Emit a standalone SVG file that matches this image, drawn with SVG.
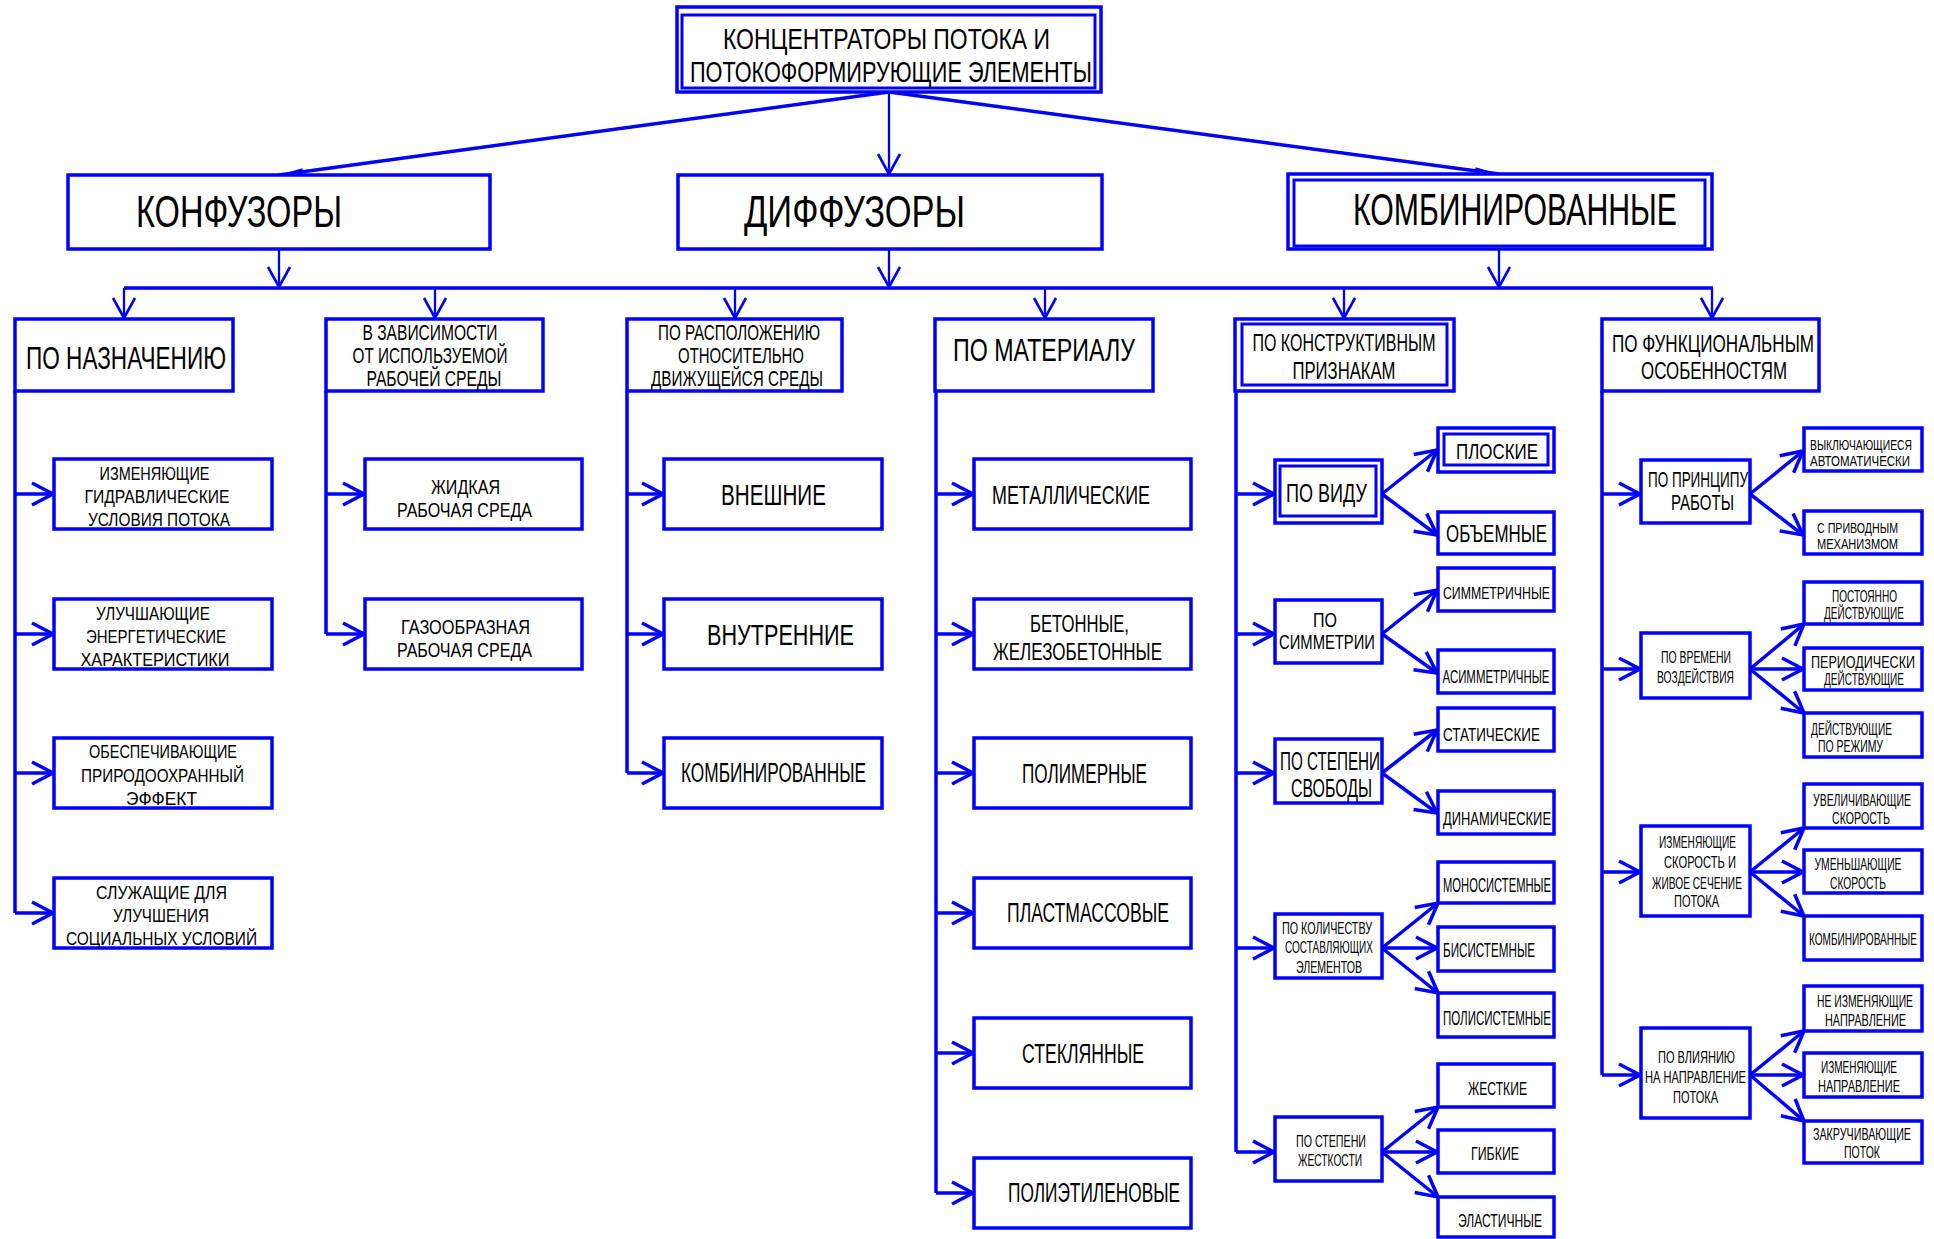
<svg xmlns="http://www.w3.org/2000/svg" width="1934" height="1239" viewBox="0 0 1934 1239">
<defs>
<style>
.bx{fill:#fff;stroke:#0000ff;stroke-width:3.5}
.in{fill:none;stroke:#0000ff;stroke-width:3}
.ln{stroke:#0000ff;stroke-width:3.5;fill:none}
.lt{stroke:#0000ff;stroke-width:2.3;fill:none}
text{font-family:"Liberation Sans",Arial,sans-serif;fill:#000;text-anchor:middle}
</style>
<marker id="ar" viewBox="-26 -15 30 30" markerWidth="30" markerHeight="30" refX="0" refY="0" orient="auto" markerUnits="userSpaceOnUse"><path d="M-21,-11 L0,0 L-21,11" fill="none" stroke="#0000ff" stroke-width="3.5"/></marker>
<marker id="as" viewBox="-26 -15 30 30" markerWidth="30" markerHeight="30" refX="0" refY="0" orient="auto" markerUnits="userSpaceOnUse"><path d="M-20,-11 L0,0 L-20,11" fill="none" stroke="#0000ff" stroke-width="2.6"/></marker>
<marker id="af" viewBox="-28 -6 30 12" markerWidth="30" markerHeight="12" refX="0" refY="0" orient="auto" markerUnits="userSpaceOnUse"><path d="M-24,-3.5 L0,0 L-24,3.5 z" fill="#0000ff"/></marker>
</defs>
<rect width="1934" height="1239" fill="#fff"/>

<g id="connectors">
<line class="ln" x1="889" y1="92" x2="279" y2="175" marker-end="url(#af)"/>
<line class="lt" x1="889" y1="92" x2="889" y2="174" marker-end="url(#as)"/>
<line class="ln" x1="889" y1="92" x2="1499" y2="174" marker-end="url(#af)"/>
<line class="lt" x1="279" y1="249" x2="279" y2="287" marker-end="url(#as)"/>
<line class="lt" x1="889" y1="249" x2="889" y2="287" marker-end="url(#as)"/>
<line class="lt" x1="1499" y1="249" x2="1499" y2="287" marker-end="url(#as)"/>
<line class="ln" x1="124" y1="288" x2="1713" y2="288"/>
<line class="lt" x1="124" y1="288" x2="124" y2="318" marker-end="url(#as)"/>
<line class="lt" x1="435" y1="288" x2="435" y2="318" marker-end="url(#as)"/>
<line class="lt" x1="735" y1="288" x2="735" y2="318" marker-end="url(#as)"/>
<line class="lt" x1="1045" y1="288" x2="1045" y2="318" marker-end="url(#as)"/>
<line class="lt" x1="1344" y1="288" x2="1344" y2="318" marker-end="url(#as)"/>
<line class="lt" x1="1712" y1="288" x2="1712" y2="318" marker-end="url(#as)"/>
<path class="ln" d="M15,391V913M326,391V634M627,391V773M936,391V1193M1236,391V1152M1602,391V1075"/>
<g marker-end="url(#ar)">
<line class="ln" x1="15" y1="494" x2="53" y2="494"/>
<line class="ln" x1="15" y1="634" x2="53" y2="634"/>
<line class="ln" x1="15" y1="773" x2="53" y2="773"/>
<line class="ln" x1="15" y1="913" x2="53" y2="913"/>
<line class="ln" x1="326" y1="494" x2="364" y2="494"/>
<line class="ln" x1="326" y1="634" x2="364" y2="634"/>
<line class="ln" x1="627" y1="494" x2="663" y2="494"/>
<line class="ln" x1="627" y1="634" x2="663" y2="634"/>
<line class="ln" x1="627" y1="773" x2="663" y2="773"/>
<line class="ln" x1="936" y1="494" x2="973" y2="494"/>
<line class="ln" x1="936" y1="634" x2="973" y2="634"/>
<line class="ln" x1="936" y1="773" x2="973" y2="773"/>
<line class="ln" x1="936" y1="913" x2="973" y2="913"/>
<line class="ln" x1="936" y1="1053" x2="973" y2="1053"/>
<line class="ln" x1="936" y1="1193" x2="973" y2="1193"/>
<line class="ln" x1="1236" y1="494" x2="1274" y2="494"/>
<line class="ln" x1="1236" y1="634" x2="1274" y2="634"/>
<line class="ln" x1="1236" y1="773" x2="1274" y2="773"/>
<line class="ln" x1="1236" y1="948" x2="1274" y2="948"/>
<line class="ln" x1="1236" y1="1152" x2="1274" y2="1152"/>
<line class="ln" x1="1602" y1="494" x2="1640" y2="494"/>
<line class="ln" x1="1602" y1="669" x2="1640" y2="669"/>
<line class="ln" x1="1602" y1="872" x2="1640" y2="872"/>
<line class="ln" x1="1602" y1="1075" x2="1640" y2="1075"/>
<line class="ln" x1="1382" y1="494" x2="1437" y2="450"/>
<line class="ln" x1="1382" y1="494" x2="1437" y2="535"/>
<line class="ln" x1="1382" y1="634" x2="1437" y2="590"/>
<line class="ln" x1="1382" y1="634" x2="1437" y2="673"/>
<line class="ln" x1="1382" y1="773" x2="1437" y2="730"/>
<line class="ln" x1="1382" y1="773" x2="1437" y2="813"/>
<line class="ln" x1="1382" y1="948" x2="1438" y2="903"/>
<line class="ln" x1="1382" y1="948" x2="1437" y2="948"/>
<line class="ln" x1="1382" y1="948" x2="1438" y2="993"/>
<line class="ln" x1="1382" y1="1152" x2="1438" y2="1107"/>
<line class="ln" x1="1382" y1="1152" x2="1437" y2="1152"/>
<line class="ln" x1="1382" y1="1152" x2="1438" y2="1197"/>
<line class="ln" x1="1750" y1="494" x2="1803" y2="451"/>
<line class="ln" x1="1750" y1="494" x2="1803" y2="535"/>
<line class="ln" x1="1750" y1="669" x2="1804" y2="624"/>
<line class="ln" x1="1750" y1="669" x2="1803" y2="669"/>
<line class="ln" x1="1750" y1="669" x2="1804" y2="713"/>
<line class="ln" x1="1750" y1="872" x2="1804" y2="828"/>
<line class="ln" x1="1750" y1="872" x2="1803" y2="872"/>
<line class="ln" x1="1750" y1="872" x2="1804" y2="916"/>
<line class="ln" x1="1750" y1="1075" x2="1804" y2="1031"/>
<line class="ln" x1="1750" y1="1075" x2="1803" y2="1075"/>
<line class="ln" x1="1750" y1="1075" x2="1804" y2="1121"/>
</g>
</g>

<g id="root"><rect class="bx" x="677" y="7" width="424" height="85"/><rect class="in" x="682" y="15" width="413" height="73"/>
<text x="886.5" y="49" font-size="29" textLength="327" lengthAdjust="spacingAndGlyphs">КОНЦЕНТРАТОРЫ ПОТОКА И</text>
<text x="891" y="82" font-size="30" textLength="402" lengthAdjust="spacingAndGlyphs">ПОТОКОФОРМИРУЮЩИЕ ЭЛЕМЕНТЫ</text></g>

<g id="konfuzory"><rect class="bx" x="68" y="175" width="422" height="74"/><text x="239" y="227" font-size="45" textLength="206" lengthAdjust="spacingAndGlyphs">КОНФУЗОРЫ</text></g>
<g id="diffuzory"><rect class="bx" x="678" y="175" width="424" height="74"/><text x="854.5" y="227" font-size="45" textLength="221" lengthAdjust="spacingAndGlyphs">ДИФФУЗОРЫ</text></g>
<g id="kombinirovannye"><rect class="bx" x="1288" y="174" width="424" height="75"/><rect class="in" x="1294" y="180" width="411" height="66"/><text x="1515" y="225" font-size="45" textLength="324" lengthAdjust="spacingAndGlyphs">КОМБИНИРОВАННЫЕ</text></g>

<g id="po-naznacheniyu"><rect class="bx" x="15" y="319" width="218" height="72"/><text x="126" y="369" font-size="31" textLength="200" lengthAdjust="spacingAndGlyphs">ПО НАЗНАЧЕНИЮ</text></g>
<g id="v-zavisimosti"><rect class="bx" x="326" y="319" width="217" height="72"/>
<text x="430" y="340" font-size="22" textLength="135" lengthAdjust="spacingAndGlyphs">В ЗАВИСИМОСТИ</text>
<text x="430" y="363" font-size="22" textLength="155" lengthAdjust="spacingAndGlyphs">ОТ ИСПОЛЬЗУЕМОЙ</text>
<text x="434" y="386" font-size="22" textLength="135" lengthAdjust="spacingAndGlyphs">РАБОЧЕЙ СРЕДЫ</text></g>
<g id="po-raspolozheniyu"><rect class="bx" x="627" y="319" width="215" height="72"/>
<text x="739" y="340" font-size="22" textLength="162" lengthAdjust="spacingAndGlyphs">ПО РАСПОЛОЖЕНИЮ</text>
<text x="741" y="363" font-size="22" textLength="126" lengthAdjust="spacingAndGlyphs">ОТНОСИТЕЛЬНО</text>
<text x="737" y="386" font-size="22" textLength="172" lengthAdjust="spacingAndGlyphs">ДВИЖУЩЕЙСЯ СРЕДЫ</text></g>
<g id="po-materialu"><rect class="bx" x="935" y="319" width="218" height="72"/><text x="1044" y="361" font-size="31" textLength="182" lengthAdjust="spacingAndGlyphs">ПО МАТЕРИАЛУ</text></g>
<g id="po-konstruktivnym"><rect class="bx" x="1235" y="319" width="219" height="72"/><rect class="in" x="1242" y="324" width="205" height="61"/>
<text x="1344" y="351" font-size="24" textLength="183" lengthAdjust="spacingAndGlyphs">ПО КОНСТРУКТИВНЫМ</text>
<text x="1344" y="379" font-size="24" textLength="103" lengthAdjust="spacingAndGlyphs">ПРИЗНАКАМ</text></g>
<g id="po-funkcionalnym"><rect class="bx" x="1602" y="319" width="217" height="72"/>
<text x="1713" y="352" font-size="24" textLength="202" lengthAdjust="spacingAndGlyphs">ПО ФУНКЦИОНАЛЬНЫМ</text>
<text x="1714" y="379" font-size="24" textLength="146" lengthAdjust="spacingAndGlyphs">ОСОБЕННОСТЯМ</text></g>

<g id="n-izmenyayushchie-gidr"><rect class="bx" x="54" y="459" width="218" height="70"/>
<text x="154.5" y="480" font-size="19" textLength="110" lengthAdjust="spacingAndGlyphs">ИЗМЕНЯЮЩИЕ</text>
<text x="157" y="503" font-size="19" textLength="145" lengthAdjust="spacingAndGlyphs">ГИДРАВЛИЧЕСКИЕ</text>
<text x="159" y="526" font-size="19" textLength="142" lengthAdjust="spacingAndGlyphs">УСЛОВИЯ ПОТОКА</text></g>
<g id="n-uluchshayushchie"><rect class="bx" x="54" y="599" width="218" height="70"/>
<text x="153" y="620" font-size="19" textLength="114" lengthAdjust="spacingAndGlyphs">УЛУЧШАЮЩИЕ</text>
<text x="156" y="643" font-size="19" textLength="140" lengthAdjust="spacingAndGlyphs">ЭНЕРГЕТИЧЕСКИЕ</text>
<text x="155" y="666" font-size="19" textLength="149" lengthAdjust="spacingAndGlyphs">ХАРАКТЕРИСТИКИ</text></g>
<g id="n-obespechivayushchie"><rect class="bx" x="54" y="738" width="218" height="70"/>
<text x="163" y="758" font-size="19" textLength="148" lengthAdjust="spacingAndGlyphs">ОБЕСПЕЧИВАЮЩИЕ</text>
<text x="162.5" y="782" font-size="19" textLength="163" lengthAdjust="spacingAndGlyphs">ПРИРОДООХРАННЫЙ</text>
<text x="161.5" y="805" font-size="19" textLength="71" lengthAdjust="spacingAndGlyphs">ЭФФЕКТ</text></g>
<g id="n-sluzhashchie"><rect class="bx" x="54" y="878" width="218" height="70"/>
<text x="161.5" y="899" font-size="19" textLength="131" lengthAdjust="spacingAndGlyphs">СЛУЖАЩИЕ ДЛЯ</text>
<text x="161" y="922" font-size="19" textLength="96" lengthAdjust="spacingAndGlyphs">УЛУЧШЕНИЯ</text>
<text x="161.5" y="945" font-size="19" textLength="191" lengthAdjust="spacingAndGlyphs">СОЦИАЛЬНЫХ УСЛОВИЙ</text></g>

<g id="n-zhidkaya"><rect class="bx" x="365" y="459" width="217" height="70"/>
<text x="465.5" y="494" font-size="21" textLength="69" lengthAdjust="spacingAndGlyphs">ЖИДКАЯ</text>
<text x="464.5" y="517" font-size="21" textLength="135" lengthAdjust="spacingAndGlyphs">РАБОЧАЯ СРЕДА</text></g>
<g id="n-gazoobraznaya"><rect class="bx" x="365" y="599" width="217" height="70"/>
<text x="465.5" y="634" font-size="21" textLength="129" lengthAdjust="spacingAndGlyphs">ГАЗООБРАЗНАЯ</text>
<text x="464.5" y="657" font-size="21" textLength="135" lengthAdjust="spacingAndGlyphs">РАБОЧАЯ СРЕДА</text></g>

<g id="n-vneshnie"><rect class="bx" x="664" y="459" width="218" height="70"/><text x="773.5" y="505" font-size="30" textLength="105" lengthAdjust="spacingAndGlyphs">ВНЕШНИЕ</text></g>
<g id="n-vnutrennie"><rect class="bx" x="664" y="599" width="218" height="70"/><text x="780.5" y="645" font-size="30" textLength="147" lengthAdjust="spacingAndGlyphs">ВНУТРЕННИЕ</text></g>
<g id="n-kombinirovannye-2"><rect class="bx" x="664" y="738" width="218" height="70"/><text x="773.5" y="782" font-size="27" textLength="185" lengthAdjust="spacingAndGlyphs">КОМБИНИРОВАННЫЕ</text></g>

<g id="n-metallicheskie"><rect class="bx" x="974" y="459" width="217" height="70"/><text x="1071" y="504" font-size="26" textLength="158" lengthAdjust="spacingAndGlyphs">МЕТАЛЛИЧЕСКИЕ</text></g>
<g id="n-betonnye"><rect class="bx" x="974" y="599" width="217" height="70"/>
<text x="1079.5" y="632" font-size="24" textLength="99" lengthAdjust="spacingAndGlyphs">БЕТОННЫЕ,</text>
<text x="1077.5" y="660" font-size="24" textLength="169" lengthAdjust="spacingAndGlyphs">ЖЕЛЕЗОБЕТОННЫЕ</text></g>
<g id="n-polimernye"><rect class="bx" x="974" y="738" width="217" height="70"/><text x="1084.5" y="783" font-size="27" textLength="125" lengthAdjust="spacingAndGlyphs">ПОЛИМЕРНЫЕ</text></g>
<g id="n-plastmassovye"><rect class="bx" x="974" y="878" width="217" height="70"/><text x="1088" y="922" font-size="27" textLength="162" lengthAdjust="spacingAndGlyphs">ПЛАСТМАССОВЫЕ</text></g>
<g id="n-steklyannye"><rect class="bx" x="974" y="1018" width="217" height="70"/><text x="1083" y="1063" font-size="27" textLength="122" lengthAdjust="spacingAndGlyphs">СТЕКЛЯННЫЕ</text></g>
<g id="n-polietilenovye"><rect class="bx" x="974" y="1158" width="217" height="70"/><text x="1094" y="1202" font-size="27" textLength="172" lengthAdjust="spacingAndGlyphs">ПОЛИЭТИЛЕНОВЫЕ</text></g>

<g id="n-po-vidu"><rect class="bx" x="1275" y="460" width="107" height="63"/><rect class="in" x="1280" y="466" width="96" height="50"/><text x="1326.5" y="502" font-size="26" textLength="81" lengthAdjust="spacingAndGlyphs">ПО ВИДУ</text></g>
<g id="n-po-simmetrii"><rect class="bx" x="1275" y="600" width="107" height="63"/>
<text x="1325" y="627" font-size="20" textLength="24" lengthAdjust="spacingAndGlyphs">ПО</text>
<text x="1327" y="649" font-size="20" textLength="96" lengthAdjust="spacingAndGlyphs">СИММЕТРИИ</text></g>
<g id="n-po-stepeni-svobody"><rect class="bx" x="1275" y="739" width="107" height="64"/>
<text x="1330" y="770" font-size="25" textLength="100" lengthAdjust="spacingAndGlyphs">ПО СТЕПЕНИ</text>
<text x="1331.5" y="797" font-size="25" textLength="81" lengthAdjust="spacingAndGlyphs">СВОБОДЫ</text></g>
<g id="n-po-kolichestvu"><rect class="bx" x="1275" y="914" width="107" height="64"/>
<text x="1327" y="934" font-size="16" textLength="90" lengthAdjust="spacingAndGlyphs">ПО КОЛИЧЕСТВУ</text>
<text x="1329" y="953" font-size="16" textLength="88" lengthAdjust="spacingAndGlyphs">СОСТАВЛЯЮЩИХ</text>
<text x="1329" y="973" font-size="16" textLength="66" lengthAdjust="spacingAndGlyphs">ЭЛЕМЕНТОВ</text></g>
<g id="n-po-stepeni-zhestkosti"><rect class="bx" x="1275" y="1117" width="107" height="64"/>
<text x="1331" y="1147" font-size="17" textLength="70" lengthAdjust="spacingAndGlyphs">ПО СТЕПЕНИ</text>
<text x="1330" y="1166" font-size="17" textLength="64" lengthAdjust="spacingAndGlyphs">ЖЕСТКОСТИ</text></g>

<g id="n-ploskie"><rect class="bx" x="1438" y="428" width="116" height="44"/><rect class="in" x="1444" y="434" width="104" height="31"/><text x="1497" y="459" font-size="22" textLength="82" lengthAdjust="spacingAndGlyphs">ПЛОСКИЕ</text></g>
<g id="n-obemnye"><rect class="bx" x="1438" y="512" width="116" height="42"/><text x="1496.5" y="542" font-size="23" textLength="101" lengthAdjust="spacingAndGlyphs">ОБЪЕМНЫЕ</text></g>
<g id="n-simmetrichnye"><rect class="bx" x="1438" y="568" width="116" height="43"/><text x="1496.5" y="599" font-size="17" textLength="107" lengthAdjust="spacingAndGlyphs">СИММЕТРИЧНЫЕ</text></g>
<g id="n-asimmetrichnye"><rect class="bx" x="1438" y="650" width="116" height="43"/><text x="1496" y="683" font-size="18" textLength="107" lengthAdjust="spacingAndGlyphs">АСИММЕТРИЧНЫЕ</text></g>
<g id="n-staticheskie"><rect class="bx" x="1438" y="708" width="116" height="43"/><text x="1491.5" y="741" font-size="18" textLength="97" lengthAdjust="spacingAndGlyphs">СТАТИЧЕСКИЕ</text></g>
<g id="n-dinamicheskie"><rect class="bx" x="1438" y="791" width="116" height="43"/><text x="1497" y="825" font-size="18" textLength="108" lengthAdjust="spacingAndGlyphs">ДИНАМИЧЕСКИЕ</text></g>
<g id="n-monosistemnye"><rect class="bx" x="1438" y="862" width="116" height="41"/><text x="1497" y="892" font-size="20" textLength="108" lengthAdjust="spacingAndGlyphs">МОНОСИСТЕМНЫЕ</text></g>
<g id="n-bisistemnye"><rect class="bx" x="1438" y="927" width="116" height="44"/><text x="1489" y="957" font-size="20" textLength="92" lengthAdjust="spacingAndGlyphs">БИСИСТЕМНЫЕ</text></g>
<g id="n-polisistemnye"><rect class="bx" x="1438" y="993" width="116" height="44"/><text x="1497" y="1025" font-size="20" textLength="108" lengthAdjust="spacingAndGlyphs">ПОЛИСИСТЕМНЫЕ</text></g>
<g id="n-zhestkie"><rect class="bx" x="1438" y="1064" width="116" height="43"/><text x="1497.5" y="1095" font-size="19" textLength="59" lengthAdjust="spacingAndGlyphs">ЖЕСТКИЕ</text></g>
<g id="n-gibkie"><rect class="bx" x="1438" y="1130" width="116" height="43"/><text x="1495" y="1160" font-size="19" textLength="48" lengthAdjust="spacingAndGlyphs">ГИБКИЕ</text></g>
<g id="n-elastichnye"><rect class="bx" x="1438" y="1197" width="116" height="40"/><text x="1500" y="1227" font-size="19" textLength="84" lengthAdjust="spacingAndGlyphs">ЭЛАСТИЧНЫЕ</text></g>

<g id="n-po-principu"><rect class="bx" x="1641" y="460" width="109" height="63"/>
<text x="1698" y="487" font-size="22" textLength="100" lengthAdjust="spacingAndGlyphs">ПО ПРИНЦИПУ</text>
<text x="1702.5" y="510" font-size="22" textLength="63" lengthAdjust="spacingAndGlyphs">РАБОТЫ</text></g>
<g id="n-po-vremeni"><rect class="bx" x="1641" y="633" width="109" height="65"/>
<text x="1696" y="663" font-size="17" textLength="70" lengthAdjust="spacingAndGlyphs">ПО ВРЕМЕНИ</text>
<text x="1695.5" y="683" font-size="17" textLength="77" lengthAdjust="spacingAndGlyphs">ВОЗДЕЙСТВИЯ</text></g>
<g id="n-izm-skorost"><rect class="bx" x="1641" y="826" width="109" height="90"/>
<text x="1697.5" y="848" font-size="17" textLength="77" lengthAdjust="spacingAndGlyphs">ИЗМЕНЯЮЩИЕ</text>
<text x="1700" y="868" font-size="17" textLength="72" lengthAdjust="spacingAndGlyphs">СКОРОСТЬ И</text>
<text x="1697" y="889" font-size="17" textLength="90" lengthAdjust="spacingAndGlyphs">ЖИВОЕ СЕЧЕНИЕ</text>
<text x="1696.5" y="907" font-size="17" textLength="45" lengthAdjust="spacingAndGlyphs">ПОТОКА</text></g>
<g id="n-po-vliyaniyu"><rect class="bx" x="1641" y="1028" width="109" height="90"/>
<text x="1696.5" y="1063" font-size="17" textLength="77" lengthAdjust="spacingAndGlyphs">ПО ВЛИЯНИЮ</text>
<text x="1695.5" y="1083" font-size="17" textLength="101" lengthAdjust="spacingAndGlyphs">НА НАПРАВЛЕНИЕ</text>
<text x="1695.5" y="1103" font-size="17" textLength="45" lengthAdjust="spacingAndGlyphs">ПОТОКА</text></g>

<g id="n-vyklyuchayushchiesya"><rect class="bx" x="1804" y="428" width="118" height="43"/>
<text x="1861" y="450" font-size="15" textLength="102" lengthAdjust="spacingAndGlyphs">ВЫКЛЮЧАЮЩИЕСЯ</text>
<text x="1860" y="466" font-size="15" textLength="100" lengthAdjust="spacingAndGlyphs">АВТОМАТИЧЕСКИ</text></g>
<g id="n-s-privodnym"><rect class="bx" x="1804" y="511" width="118" height="43"/>
<text x="1857.5" y="533" font-size="15" textLength="81" lengthAdjust="spacingAndGlyphs">С ПРИВОДНЫМ</text>
<text x="1857.5" y="549" font-size="15" textLength="81" lengthAdjust="spacingAndGlyphs">МЕХАНИЗМОМ</text></g>
<g id="n-postoyanno"><rect class="bx" x="1804" y="582" width="118" height="42"/>
<text x="1864.5" y="602" font-size="16" textLength="65" lengthAdjust="spacingAndGlyphs">ПОСТОЯННО</text>
<text x="1864" y="619" font-size="16" textLength="80" lengthAdjust="spacingAndGlyphs">ДЕЙСТВУЮЩИЕ</text></g>
<g id="n-periodicheski"><rect class="bx" x="1804" y="648" width="118" height="42"/>
<text x="1863" y="668" font-size="16" textLength="104" lengthAdjust="spacingAndGlyphs">ПЕРИОДИЧЕСКИ</text>
<text x="1864" y="685" font-size="16" textLength="80" lengthAdjust="spacingAndGlyphs">ДЕЙСТВУЮЩИЕ</text></g>
<g id="n-po-rezhimu"><rect class="bx" x="1804" y="713" width="118" height="44"/>
<text x="1851.5" y="735" font-size="16" textLength="81" lengthAdjust="spacingAndGlyphs">ДЕЙСТВУЮЩИЕ</text>
<text x="1850.5" y="752" font-size="16" textLength="65" lengthAdjust="spacingAndGlyphs">ПО РЕЖИМУ</text></g>
<g id="n-uvelichivayushchie"><rect class="bx" x="1804" y="784" width="118" height="44"/>
<text x="1862" y="806" font-size="16" textLength="98" lengthAdjust="spacingAndGlyphs">УВЕЛИЧИВАЮЩИЕ</text>
<text x="1861" y="824" font-size="16" textLength="58" lengthAdjust="spacingAndGlyphs">СКОРОСТЬ</text></g>
<g id="n-umenshayushchie"><rect class="bx" x="1804" y="850" width="118" height="43"/>
<text x="1858" y="870" font-size="16" textLength="87" lengthAdjust="spacingAndGlyphs">УМЕНЬШАЮЩИЕ</text>
<text x="1858" y="889" font-size="16" textLength="56" lengthAdjust="spacingAndGlyphs">СКОРОСТЬ</text></g>
<g id="n-kombinirovannye-3"><rect class="bx" x="1804" y="916" width="118" height="44"/>
<text x="1863" y="945" font-size="16" textLength="108" lengthAdjust="spacingAndGlyphs">КОМБИНИРОВАННЫЕ</text></g>
<g id="n-ne-izmenyayushchie"><rect class="bx" x="1804" y="986" width="118" height="45"/>
<text x="1865" y="1007" font-size="16" textLength="96" lengthAdjust="spacingAndGlyphs">НЕ ИЗМЕНЯЮЩИЕ</text>
<text x="1865.5" y="1026" font-size="16" textLength="81" lengthAdjust="spacingAndGlyphs">НАПРАВЛЕНИЕ</text></g>
<g id="n-izmenyayushchie-napr"><rect class="bx" x="1804" y="1053" width="118" height="44"/>
<text x="1859" y="1073" font-size="16" textLength="76" lengthAdjust="spacingAndGlyphs">ИЗМЕНЯЮЩИЕ</text>
<text x="1859" y="1092" font-size="16" textLength="82" lengthAdjust="spacingAndGlyphs">НАПРАВЛЕНИЕ</text></g>
<g id="n-zakruchivayushchie"><rect class="bx" x="1804" y="1121" width="118" height="42"/>
<text x="1862" y="1140" font-size="16" textLength="98" lengthAdjust="spacingAndGlyphs">ЗАКРУЧИВАЮЩИЕ</text>
<text x="1862" y="1158" font-size="16" textLength="36" lengthAdjust="spacingAndGlyphs">ПОТОК</text></g>
</svg>
